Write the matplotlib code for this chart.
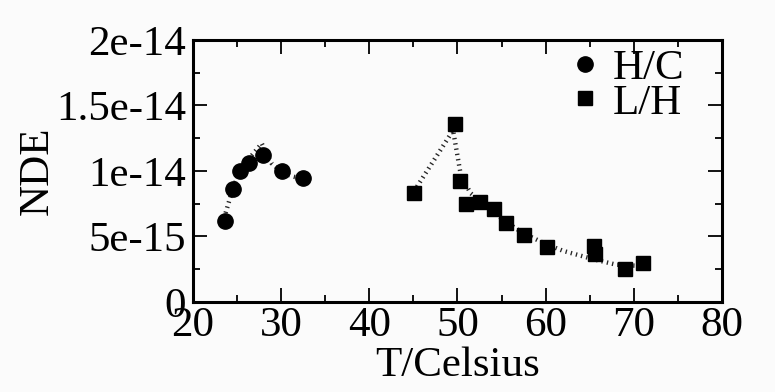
import numpy as np
import matplotlib
matplotlib.use("Agg")
import matplotlib.pyplot as plt
from matplotlib.ticker import MultipleLocator, FixedLocator, FixedFormatter

plt.rcParams['font.family'] = ['Liberation Serif', 'DejaVu Serif']

# H/C measurements and the dotted trend through them
hc_temp = [23.6, 24.5, 25.3, 26.3, 27.9, 30.1, 32.5]
hc_nde = [6.2e-15, 8.6e-15, 10.0e-15, 10.6e-15, 11.2e-15, 10.0e-15, 9.5e-15]
hc_trend_temp = [23.7, 24.5, 25.3, 26.3, 27.8, 28.9, 30.1, 31.2, 33.6]
hc_trend_nde = [6.8e-15, 8.6e-15, 10.0e-15, 10.9e-15, 12.1e-15, 10.6e-15, 9.9e-15, 9.6e-15, 9.2e-15]

# L/H measurements and the dotted trend through them
lh_temp = [45.1, 49.7, 50.3, 51.0, 52.5, 54.1, 55.5, 57.6, 60.1, 65.5, 65.6, 69.0, 71.0]
lh_nde = [8.3e-15, 13.6e-15, 9.2e-15, 7.5e-15, 7.6e-15, 7.1e-15, 6.0e-15,
          5.1e-15, 4.2e-15, 4.3e-15, 3.7e-15, 2.5e-15, 2.95e-15]
lh_trend_temp = [45.4, 49.5, 50.4, 51.5, 53.5, 55.5, 57.6, 60.1, 62.0, 65.5, 68.0, 72.2]
lh_trend_nde = [8.8e-15, 13.1e-15, 9.6e-15, 8.3e-15, 7.2e-15, 6.1e-15, 5.2e-15,
                4.4e-15, 3.9e-15, 3.25e-15, 2.85e-15, 2.7e-15]

y_ticks = [0, 5e-15, 1e-14, 1.5e-14, 2e-14]
y_tick_labels = ['0', '5e-15', '1e-14', '1.5e-14', '2e-14']

FS = 31
bg = '#fbfbfb'

fig = plt.figure(figsize=(7.75, 3.92), dpi=100, facecolor=bg)
ax = fig.add_axes([0.249, 0.2296, 0.6826, 0.6684], facecolor=bg)

# short perpendicular dashes give the hatched trend lines
trend_style = dict(color='#262626', lw=3.2, dashes=(0.3, 0.9),
                   dash_capstyle='butt', zorder=2)
ax.plot(hc_trend_temp, hc_trend_nde, **trend_style)
ax.plot(lh_trend_temp, lh_trend_nde, **trend_style)

ax.plot(hc_temp, hc_nde, 'o', color='black', ms=11, mec='black', ls='none',
        label='H/C', zorder=3)
ax.plot(lh_temp, lh_nde, 's', color='black', ms=10.5, mec='black', ls='none',
        label='L/H', zorder=3)

ax.set_xlim(20, 80)
ax.set_ylim(0, 2e-14)
ax.xaxis.set_major_locator(MultipleLocator(10))
ax.xaxis.set_minor_locator(MultipleLocator(5))
ax.yaxis.set_major_locator(FixedLocator(y_ticks))
ax.yaxis.set_major_formatter(FixedFormatter(y_tick_labels))
ax.yaxis.set_minor_locator(MultipleLocator(2.5e-15))

ax.tick_params(which='both', direction='in', top=True, right=True,
               labelsize=FS, width=1.3, color='black')
ax.tick_params(which='major', length=10)
ax.tick_params(which='minor', length=5)
ax.tick_params(axis='x', pad=3)
ax.tick_params(axis='y', pad=5)

for sp in ax.spines.values():
    sp.set_linewidth(2.2)

ax.set_xlabel('T/Celsius', fontsize=FS, labelpad=1)
ax.set_ylabel('NDE', fontsize=FS)
ax.yaxis.set_label_coords(-0.258, 0.5)

ax.legend(loc='upper right', bbox_to_anchor=(0.945, 1.0), frameon=False,
          fontsize=FS, handlelength=0.6, handletextpad=0.35,
          labelspacing=-0.1, borderaxespad=0.0, borderpad=0.2, markerscale=1.0)

fig.savefig('out.png', dpi=100, facecolor=bg)
